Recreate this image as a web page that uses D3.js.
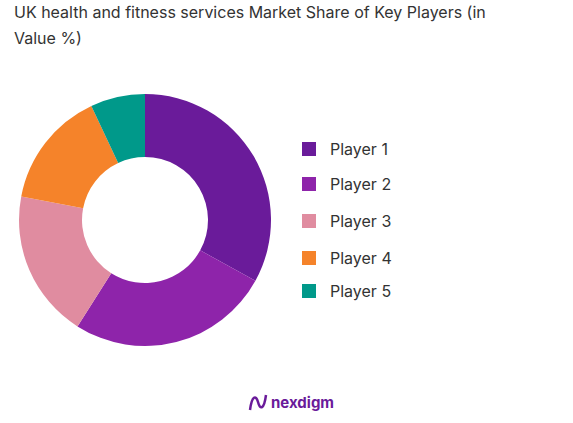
<!DOCTYPE html>
<html><head><meta charset="utf-8">
<script src="https://cdn.jsdelivr.net/npm/d3@7"></script>
<style>body{margin:0;background:#fff;font-family:Inter,"Noto Sans",sans-serif;}</style>
</head><body><svg id="c" width="573" height="423"></svg>
<script>
const categories = ["Player 1","Player 2","Player 3","Player 4","Player 5"];
const values = [33,26,19,15,7];
const colors = ["#6a1b9a","#8e24aa","#e08ca0","#f5832a","#00998a"];
const svg = d3.select("#c");
svg.append("text").attr("x",14).attr("y",18).attr("font-size",16).attr("fill","#333")
  .text("UK health and fitness services Market Share of Key Players (in");
svg.append("text").attr("x",14).attr("y",44).attr("font-size",16).attr("fill","#333").text("Value %)");
const pie = d3.pie().sort(null).value(d=>d)(values);
const arc = d3.arc().innerRadius(63).outerRadius(126);
const g = svg.append("g").attr("transform","translate(145,220)");
g.selectAll("path").data(pie).join("path").attr("d",arc).attr("fill",(d,i)=>colors[i]);
const ly = [149,184,221,258,291];
const lg = svg.selectAll("g.l").data(categories).join("g").attr("transform",(d,i)=>`translate(302,${ly[i]})`);
lg.append("rect").attr("x",0).attr("y",-7).attr("width",14).attr("height",14).attr("fill",(d,i)=>colors[i]);
lg.append("text").attr("x",28).attr("y",6).attr("font-size",16).attr("fill","#333").text(d=>d);
svg.append("path").attr("d","M250,410 C252,395 256,395 258,402 C260,410 264,410 266,395").attr("stroke","#6a1b9a").attr("stroke-width",2.5).attr("fill","none");
svg.append("text").attr("x",271).attr("y",408).attr("font-size",15).attr("font-weight","bold").attr("fill","#6a1b9a").text("nexdigm");
</script></body></html>
